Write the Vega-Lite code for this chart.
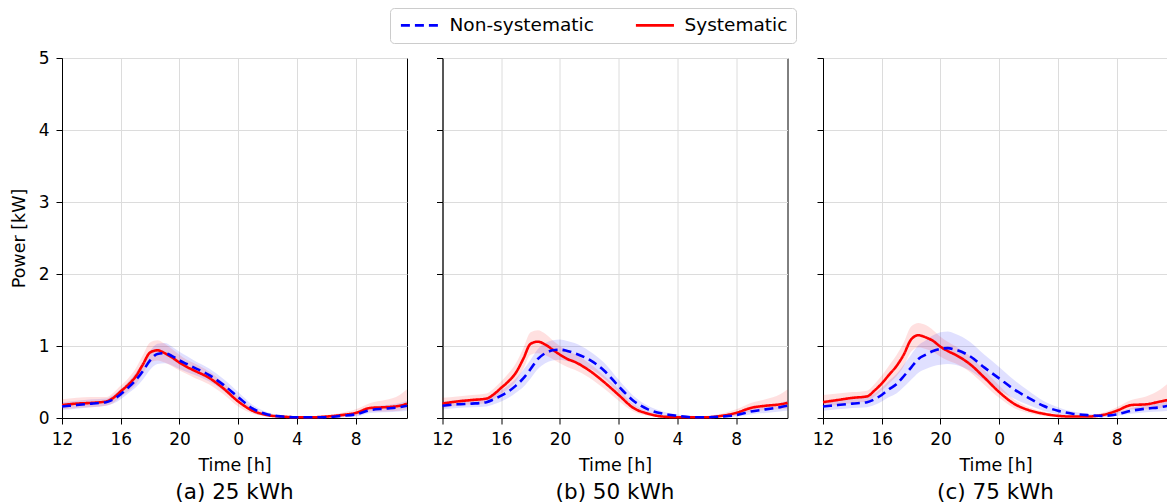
{
  "$schema": "https://vega.github.io/schema/vega-lite/v6.json",
  "padding": {"left": 9, "top": 7, "right": 0, "bottom": 0},
  "config": {
    "font": "DejaVu Sans",
    "view": {"stroke": "#000000", "strokeWidth": 1},
    "axis": {"gridColor": "#dcdcdc", "gridWidth": 1, "domainColor": "#000000", "tickColor": "#000000", "labelColor": "#000000", "titleColor": "#000000", "labelFontSize": 17, "titleFontSize": 17.5, "titleFontWeight": "normal", "tickSize": 6, "labelPadding": 7, "labelFlush": false, "labelFont": "DejaVu Sans", "titleFont": "DejaVu Sans"},
    "title": {"fontSize": 21.5, "fontWeight": "normal", "color": "#000000", "font": "DejaVu Sans"},
    "legend": {"title": null, "orient": "none", "legendX": 328, "legendY": -50, "direction": "horizontal", "columns": 2, "symbolType": "M-1,0H5", "symbolSize": 161, "symbolStrokeWidth": 2.6, "labelFontSize": 18.5, "labelFont": "DejaVu Sans", "labelColor": "#000000", "labelOffset": 33, "columnPadding": 36, "padding": 8, "strokeColor": "#cccccc", "fillColor": "#ffffff", "cornerRadius": 4}
  },
  "data": {"values": [
    {"p":"a","s":"Systematic","t":0,"y":0.18,"lo":0.12,"hi":0.26},
    {"p":"a","s":"Systematic","t":1,"y":0.20,"lo":0.14,"hi":0.28},
    {"p":"a","s":"Systematic","t":2,"y":0.21,"lo":0.15,"hi":0.29},
    {"p":"a","s":"Systematic","t":3,"y":0.23,"lo":0.17,"hi":0.29},
    {"p":"a","s":"Systematic","t":3.5,"y":0.28,"lo":0.21,"hi":0.35},
    {"p":"a","s":"Systematic","t":4,"y":0.37,"lo":0.29,"hi":0.45},
    {"p":"a","s":"Systematic","t":4.5,"y":0.46,"lo":0.37,"hi":0.55},
    {"p":"a","s":"Systematic","t":5,"y":0.57,"lo":0.46,"hi":0.68},
    {"p":"a","s":"Systematic","t":5.5,"y":0.74,"lo":0.61,"hi":0.87},
    {"p":"a","s":"Systematic","t":6,"y":0.91,"lo":0.77,"hi":1.05},
    {"p":"a","s":"Systematic","t":6.5,"y":0.94,"lo":0.80,"hi":1.08},
    {"p":"a","s":"Systematic","t":7,"y":0.90,"lo":0.77,"hi":1.03},
    {"p":"a","s":"Systematic","t":7.5,"y":0.84,"lo":0.72,"hi":0.96},
    {"p":"a","s":"Systematic","t":8,"y":0.77,"lo":0.66,"hi":0.88},
    {"p":"a","s":"Systematic","t":8.5,"y":0.71,"lo":0.61,"hi":0.81},
    {"p":"a","s":"Systematic","t":9,"y":0.66,"lo":0.56,"hi":0.76},
    {"p":"a","s":"Systematic","t":10,"y":0.56,"lo":0.47,"hi":0.65},
    {"p":"a","s":"Systematic","t":11,"y":0.41,"lo":0.33,"hi":0.49},
    {"p":"a","s":"Systematic","t":12,"y":0.23,"lo":0.16,"hi":0.30},
    {"p":"a","s":"Systematic","t":13,"y":0.10,"lo":0.06,"hi":0.14},
    {"p":"a","s":"Systematic","t":14,"y":0.04,"lo":0.02,"hi":0.06},
    {"p":"a","s":"Systematic","t":15,"y":0.02,"lo":0.01,"hi":0.03},
    {"p":"a","s":"Systematic","t":16,"y":0.01,"lo":0.00,"hi":0.02},
    {"p":"a","s":"Systematic","t":17,"y":0.01,"lo":0.00,"hi":0.02},
    {"p":"a","s":"Systematic","t":18,"y":0.02,"lo":0.00,"hi":0.04},
    {"p":"a","s":"Systematic","t":19,"y":0.04,"lo":0.01,"hi":0.07},
    {"p":"a","s":"Systematic","t":20,"y":0.07,"lo":0.03,"hi":0.12},
    {"p":"a","s":"Systematic","t":21,"y":0.14,"lo":0.09,"hi":0.21},
    {"p":"a","s":"Systematic","t":22,"y":0.15,"lo":0.09,"hi":0.25},
    {"p":"a","s":"Systematic","t":23,"y":0.17,"lo":0.10,"hi":0.32},
    {"p":"a","s":"Systematic","t":23.5,"y":0.20,"lo":0.12,"hi":0.40},
    {"p":"a","s":"Non-systematic","t":0,"y":0.16,"lo":0.11,"hi":0.22},
    {"p":"a","s":"Non-systematic","t":1,"y":0.18,"lo":0.13,"hi":0.24},
    {"p":"a","s":"Non-systematic","t":2,"y":0.20,"lo":0.15,"hi":0.26},
    {"p":"a","s":"Non-systematic","t":3,"y":0.22,"lo":0.17,"hi":0.27},
    {"p":"a","s":"Non-systematic","t":3.5,"y":0.26,"lo":0.20,"hi":0.32},
    {"p":"a","s":"Non-systematic","t":4,"y":0.33,"lo":0.26,"hi":0.40},
    {"p":"a","s":"Non-systematic","t":4.5,"y":0.42,"lo":0.34,"hi":0.50},
    {"p":"a","s":"Non-systematic","t":5,"y":0.52,"lo":0.42,"hi":0.62},
    {"p":"a","s":"Non-systematic","t":5.5,"y":0.65,"lo":0.53,"hi":0.77},
    {"p":"a","s":"Non-systematic","t":6,"y":0.80,"lo":0.67,"hi":0.93},
    {"p":"a","s":"Non-systematic","t":6.5,"y":0.89,"lo":0.75,"hi":1.03},
    {"p":"a","s":"Non-systematic","t":7,"y":0.90,"lo":0.76,"hi":1.04},
    {"p":"a","s":"Non-systematic","t":7.5,"y":0.86,"lo":0.73,"hi":0.99},
    {"p":"a","s":"Non-systematic","t":8,"y":0.80,"lo":0.68,"hi":0.92},
    {"p":"a","s":"Non-systematic","t":8.5,"y":0.75,"lo":0.64,"hi":0.86},
    {"p":"a","s":"Non-systematic","t":9,"y":0.70,"lo":0.60,"hi":0.80},
    {"p":"a","s":"Non-systematic","t":10,"y":0.60,"lo":0.51,"hi":0.69},
    {"p":"a","s":"Non-systematic","t":11,"y":0.46,"lo":0.38,"hi":0.54},
    {"p":"a","s":"Non-systematic","t":12,"y":0.29,"lo":0.22,"hi":0.36},
    {"p":"a","s":"Non-systematic","t":13,"y":0.13,"lo":0.08,"hi":0.18},
    {"p":"a","s":"Non-systematic","t":14,"y":0.05,"lo":0.02,"hi":0.08},
    {"p":"a","s":"Non-systematic","t":15,"y":0.02,"lo":0.01,"hi":0.03},
    {"p":"a","s":"Non-systematic","t":16,"y":0.01,"lo":0.00,"hi":0.02},
    {"p":"a","s":"Non-systematic","t":17,"y":0.01,"lo":0.00,"hi":0.02},
    {"p":"a","s":"Non-systematic","t":18,"y":0.01,"lo":0.00,"hi":0.02},
    {"p":"a","s":"Non-systematic","t":19,"y":0.03,"lo":0.01,"hi":0.05},
    {"p":"a","s":"Non-systematic","t":20,"y":0.05,"lo":0.02,"hi":0.08},
    {"p":"a","s":"Non-systematic","t":21,"y":0.11,"lo":0.07,"hi":0.15},
    {"p":"a","s":"Non-systematic","t":22,"y":0.13,"lo":0.08,"hi":0.18},
    {"p":"a","s":"Non-systematic","t":23,"y":0.15,"lo":0.09,"hi":0.21},
    {"p":"a","s":"Non-systematic","t":23.5,"y":0.17,"lo":0.10,"hi":0.24},
    {"p":"b","s":"Systematic","t":0,"y":0.20,"lo":0.14,"hi":0.28},
    {"p":"b","s":"Systematic","t":1,"y":0.23,"lo":0.17,"hi":0.30},
    {"p":"b","s":"Systematic","t":2,"y":0.25,"lo":0.19,"hi":0.32},
    {"p":"b","s":"Systematic","t":3,"y":0.27,"lo":0.21,"hi":0.34},
    {"p":"b","s":"Systematic","t":3.5,"y":0.33,"lo":0.26,"hi":0.41},
    {"p":"b","s":"Systematic","t":4,"y":0.42,"lo":0.34,"hi":0.51},
    {"p":"b","s":"Systematic","t":4.5,"y":0.51,"lo":0.41,"hi":0.62},
    {"p":"b","s":"Systematic","t":5,"y":0.63,"lo":0.51,"hi":0.76},
    {"p":"b","s":"Systematic","t":5.5,"y":0.82,"lo":0.68,"hi":0.97},
    {"p":"b","s":"Systematic","t":6,"y":1.03,"lo":0.88,"hi":1.19},
    {"p":"b","s":"Systematic","t":6.5,"y":1.06,"lo":0.90,"hi":1.22},
    {"p":"b","s":"Systematic","t":7,"y":1.02,"lo":0.87,"hi":1.17},
    {"p":"b","s":"Systematic","t":7.5,"y":0.95,"lo":0.82,"hi":1.08},
    {"p":"b","s":"Systematic","t":8,"y":0.88,"lo":0.76,"hi":1.00},
    {"p":"b","s":"Systematic","t":8.5,"y":0.82,"lo":0.71,"hi":0.93},
    {"p":"b","s":"Systematic","t":9,"y":0.78,"lo":0.67,"hi":0.89},
    {"p":"b","s":"Systematic","t":10,"y":0.66,"lo":0.56,"hi":0.76},
    {"p":"b","s":"Systematic","t":11,"y":0.50,"lo":0.41,"hi":0.59},
    {"p":"b","s":"Systematic","t":12,"y":0.32,"lo":0.24,"hi":0.40},
    {"p":"b","s":"Systematic","t":13,"y":0.14,"lo":0.09,"hi":0.19},
    {"p":"b","s":"Systematic","t":14,"y":0.06,"lo":0.03,"hi":0.09},
    {"p":"b","s":"Systematic","t":15,"y":0.02,"lo":0.01,"hi":0.04},
    {"p":"b","s":"Systematic","t":16,"y":0.01,"lo":0.00,"hi":0.02},
    {"p":"b","s":"Systematic","t":17,"y":0.01,"lo":0.00,"hi":0.02},
    {"p":"b","s":"Systematic","t":18,"y":0.01,"lo":0.00,"hi":0.03},
    {"p":"b","s":"Systematic","t":19,"y":0.03,"lo":0.01,"hi":0.06},
    {"p":"b","s":"Systematic","t":20,"y":0.07,"lo":0.03,"hi":0.12},
    {"p":"b","s":"Systematic","t":21,"y":0.14,"lo":0.09,"hi":0.21},
    {"p":"b","s":"Systematic","t":22,"y":0.17,"lo":0.11,"hi":0.26},
    {"p":"b","s":"Systematic","t":23,"y":0.19,"lo":0.12,"hi":0.33},
    {"p":"b","s":"Systematic","t":23.5,"y":0.21,"lo":0.13,"hi":0.40},
    {"p":"b","s":"Non-systematic","t":0,"y":0.17,"lo":0.12,"hi":0.23},
    {"p":"b","s":"Non-systematic","t":1,"y":0.19,"lo":0.14,"hi":0.25},
    {"p":"b","s":"Non-systematic","t":2,"y":0.20,"lo":0.15,"hi":0.26},
    {"p":"b","s":"Non-systematic","t":3,"y":0.22,"lo":0.16,"hi":0.28},
    {"p":"b","s":"Non-systematic","t":3.5,"y":0.26,"lo":0.19,"hi":0.33},
    {"p":"b","s":"Non-systematic","t":4,"y":0.31,"lo":0.23,"hi":0.39},
    {"p":"b","s":"Non-systematic","t":4.5,"y":0.37,"lo":0.28,"hi":0.46},
    {"p":"b","s":"Non-systematic","t":5,"y":0.45,"lo":0.35,"hi":0.55},
    {"p":"b","s":"Non-systematic","t":5.5,"y":0.55,"lo":0.43,"hi":0.67},
    {"p":"b","s":"Non-systematic","t":6,"y":0.68,"lo":0.55,"hi":0.81},
    {"p":"b","s":"Non-systematic","t":6.5,"y":0.82,"lo":0.68,"hi":0.96},
    {"p":"b","s":"Non-systematic","t":7,"y":0.90,"lo":0.76,"hi":1.04},
    {"p":"b","s":"Non-systematic","t":7.5,"y":0.94,"lo":0.80,"hi":1.08},
    {"p":"b","s":"Non-systematic","t":8,"y":0.95,"lo":0.81,"hi":1.09},
    {"p":"b","s":"Non-systematic","t":8.5,"y":0.93,"lo":0.79,"hi":1.07},
    {"p":"b","s":"Non-systematic","t":9,"y":0.90,"lo":0.76,"hi":1.04},
    {"p":"b","s":"Non-systematic","t":10,"y":0.81,"lo":0.69,"hi":0.93},
    {"p":"b","s":"Non-systematic","t":11,"y":0.66,"lo":0.55,"hi":0.77},
    {"p":"b","s":"Non-systematic","t":12,"y":0.44,"lo":0.35,"hi":0.53},
    {"p":"b","s":"Non-systematic","t":13,"y":0.24,"lo":0.17,"hi":0.31},
    {"p":"b","s":"Non-systematic","t":14,"y":0.12,"lo":0.07,"hi":0.17},
    {"p":"b","s":"Non-systematic","t":15,"y":0.06,"lo":0.03,"hi":0.09},
    {"p":"b","s":"Non-systematic","t":16,"y":0.03,"lo":0.01,"hi":0.05},
    {"p":"b","s":"Non-systematic","t":17,"y":0.01,"lo":0.00,"hi":0.03},
    {"p":"b","s":"Non-systematic","t":18,"y":0.01,"lo":0.00,"hi":0.02},
    {"p":"b","s":"Non-systematic","t":19,"y":0.02,"lo":0.01,"hi":0.04},
    {"p":"b","s":"Non-systematic","t":20,"y":0.04,"lo":0.02,"hi":0.07},
    {"p":"b","s":"Non-systematic","t":21,"y":0.09,"lo":0.05,"hi":0.13},
    {"p":"b","s":"Non-systematic","t":22,"y":0.12,"lo":0.07,"hi":0.17},
    {"p":"b","s":"Non-systematic","t":23,"y":0.15,"lo":0.09,"hi":0.21},
    {"p":"b","s":"Non-systematic","t":23.5,"y":0.17,"lo":0.10,"hi":0.24},
    {"p":"c","s":"Systematic","t":0,"y":0.22,"lo":0.15,"hi":0.32},
    {"p":"c","s":"Systematic","t":1,"y":0.25,"lo":0.18,"hi":0.34},
    {"p":"c","s":"Systematic","t":2,"y":0.28,"lo":0.21,"hi":0.36},
    {"p":"c","s":"Systematic","t":3,"y":0.30,"lo":0.23,"hi":0.38},
    {"p":"c","s":"Systematic","t":3.5,"y":0.38,"lo":0.30,"hi":0.47},
    {"p":"c","s":"Systematic","t":4,"y":0.48,"lo":0.38,"hi":0.59},
    {"p":"c","s":"Systematic","t":4.5,"y":0.60,"lo":0.48,"hi":0.73},
    {"p":"c","s":"Systematic","t":5,"y":0.72,"lo":0.58,"hi":0.87},
    {"p":"c","s":"Systematic","t":5.5,"y":0.88,"lo":0.72,"hi":1.05},
    {"p":"c","s":"Systematic","t":6,"y":1.09,"lo":0.92,"hi":1.27},
    {"p":"c","s":"Systematic","t":6.5,"y":1.15,"lo":0.98,"hi":1.32},
    {"p":"c","s":"Systematic","t":7,"y":1.12,"lo":0.96,"hi":1.29},
    {"p":"c","s":"Systematic","t":7.5,"y":1.07,"lo":0.92,"hi":1.22},
    {"p":"c","s":"Systematic","t":8,"y":0.99,"lo":0.85,"hi":1.13},
    {"p":"c","s":"Systematic","t":8.5,"y":0.93,"lo":0.80,"hi":1.06},
    {"p":"c","s":"Systematic","t":9,"y":0.88,"lo":0.76,"hi":1.00},
    {"p":"c","s":"Systematic","t":10,"y":0.75,"lo":0.64,"hi":0.86},
    {"p":"c","s":"Systematic","t":11,"y":0.56,"lo":0.46,"hi":0.66},
    {"p":"c","s":"Systematic","t":12,"y":0.36,"lo":0.28,"hi":0.45},
    {"p":"c","s":"Systematic","t":13,"y":0.20,"lo":0.14,"hi":0.26},
    {"p":"c","s":"Systematic","t":14,"y":0.11,"lo":0.07,"hi":0.15},
    {"p":"c","s":"Systematic","t":15,"y":0.06,"lo":0.03,"hi":0.09},
    {"p":"c","s":"Systematic","t":16,"y":0.03,"lo":0.01,"hi":0.05},
    {"p":"c","s":"Systematic","t":17,"y":0.02,"lo":0.01,"hi":0.04},
    {"p":"c","s":"Systematic","t":18,"y":0.02,"lo":0.01,"hi":0.04},
    {"p":"c","s":"Systematic","t":19,"y":0.04,"lo":0.02,"hi":0.07},
    {"p":"c","s":"Systematic","t":20,"y":0.10,"lo":0.06,"hi":0.15},
    {"p":"c","s":"Systematic","t":21,"y":0.18,"lo":0.12,"hi":0.25},
    {"p":"c","s":"Systematic","t":22,"y":0.19,"lo":0.12,"hi":0.30},
    {"p":"c","s":"Systematic","t":23,"y":0.23,"lo":0.14,"hi":0.40},
    {"p":"c","s":"Systematic","t":23.5,"y":0.25,"lo":0.15,"hi":0.48},
    {"p":"c","s":"Non-systematic","t":0,"y":0.16,"lo":0.10,"hi":0.23},
    {"p":"c","s":"Non-systematic","t":1,"y":0.18,"lo":0.12,"hi":0.25},
    {"p":"c","s":"Non-systematic","t":2,"y":0.20,"lo":0.14,"hi":0.27},
    {"p":"c","s":"Non-systematic","t":3,"y":0.22,"lo":0.15,"hi":0.29},
    {"p":"c","s":"Non-systematic","t":3.5,"y":0.26,"lo":0.18,"hi":0.34},
    {"p":"c","s":"Non-systematic","t":4,"y":0.32,"lo":0.23,"hi":0.42},
    {"p":"c","s":"Non-systematic","t":4.5,"y":0.40,"lo":0.29,"hi":0.52},
    {"p":"c","s":"Non-systematic","t":5,"y":0.47,"lo":0.34,"hi":0.61},
    {"p":"c","s":"Non-systematic","t":5.5,"y":0.58,"lo":0.43,"hi":0.74},
    {"p":"c","s":"Non-systematic","t":6,"y":0.70,"lo":0.53,"hi":0.88},
    {"p":"c","s":"Non-systematic","t":6.5,"y":0.82,"lo":0.63,"hi":1.01},
    {"p":"c","s":"Non-systematic","t":7,"y":0.88,"lo":0.68,"hi":1.08},
    {"p":"c","s":"Non-systematic","t":7.5,"y":0.93,"lo":0.72,"hi":1.15},
    {"p":"c","s":"Non-systematic","t":8,"y":0.96,"lo":0.74,"hi":1.19},
    {"p":"c","s":"Non-systematic","t":8.5,"y":0.97,"lo":0.75,"hi":1.20},
    {"p":"c","s":"Non-systematic","t":9,"y":0.95,"lo":0.74,"hi":1.17},
    {"p":"c","s":"Non-systematic","t":10,"y":0.86,"lo":0.66,"hi":1.06},
    {"p":"c","s":"Non-systematic","t":11,"y":0.70,"lo":0.52,"hi":0.88},
    {"p":"c","s":"Non-systematic","t":12,"y":0.55,"lo":0.39,"hi":0.71},
    {"p":"c","s":"Non-systematic","t":13,"y":0.40,"lo":0.27,"hi":0.53},
    {"p":"c","s":"Non-systematic","t":14,"y":0.28,"lo":0.18,"hi":0.38},
    {"p":"c","s":"Non-systematic","t":15,"y":0.17,"lo":0.10,"hi":0.24},
    {"p":"c","s":"Non-systematic","t":16,"y":0.10,"lo":0.05,"hi":0.15},
    {"p":"c","s":"Non-systematic","t":17,"y":0.06,"lo":0.03,"hi":0.09},
    {"p":"c","s":"Non-systematic","t":18,"y":0.04,"lo":0.02,"hi":0.06},
    {"p":"c","s":"Non-systematic","t":19,"y":0.03,"lo":0.01,"hi":0.05},
    {"p":"c","s":"Non-systematic","t":20,"y":0.05,"lo":0.03,"hi":0.08},
    {"p":"c","s":"Non-systematic","t":21,"y":0.10,"lo":0.06,"hi":0.14},
    {"p":"c","s":"Non-systematic","t":22,"y":0.13,"lo":0.08,"hi":0.18},
    {"p":"c","s":"Non-systematic","t":23,"y":0.15,"lo":0.09,"hi":0.21},
    {"p":"c","s":"Non-systematic","t":23.5,"y":0.17,"lo":0.10,"hi":0.24}
  ]},
  "spacing": 35.5,
  "bounds": "flush",
  "resolve": {"scale": {"color": "shared", "strokeDash": "shared"}, "legend": {"color": "shared", "strokeDash": "shared"}},
  "hconcat": [
    {
      "width": 345, "height": 360,
      "title": {"text": "(a) 25 kWh", "orient": "bottom", "offset": 8},
      "transform": [{"filter": "datum.p == 'a'"}],
      "encoding": {
        "x": {"field": "t", "type": "quantitative", "scale": {"domain": [0, 23.5], "nice": false, "zero": false}, "axis": {"values": [0, 4, 8, 12, 16, 20], "labelExpr": "(datum.value + 12) % 24", "title": "Time [h]", "titlePadding": 9}},
        "y": {"field": "y", "type": "quantitative", "scale": {"domain": [0, 5], "nice": false}, "axis": {"values": [0, 1, 2, 3, 4, 5], "title": "Power [kW]", "titlePadding": 10}}
      },
      "layer": [
        {"transform": [{"filter": "datum.s == 'Non-systematic'"}], "mark": {"type": "area", "interpolate": "monotone", "fill": "#0000ff", "fillOpacity": 0.12}, "encoding": {"y": {"field": "lo", "type": "quantitative", "title": "Power [kW]"}, "y2": {"field": "hi"}}},
        {"transform": [{"filter": "datum.s == 'Systematic'"}], "mark": {"type": "area", "interpolate": "monotone", "fill": "#ff0000", "fillOpacity": 0.12}, "encoding": {"y": {"field": "lo", "type": "quantitative", "title": "Power [kW]"}, "y2": {"field": "hi"}}},
        {"mark": {"type": "line", "interpolate": "monotone", "strokeWidth": 2.6},
         "encoding": {
           "color": {"field": "s", "type": "nominal", "scale": {"domain": ["Non-systematic", "Systematic"], "range": ["#0000ff", "#ff0000"]}},
           "strokeDash": {"field": "s", "type": "nominal", "scale": {"domain": ["Non-systematic", "Systematic"], "range": [[9, 5], [1, 0]]}}}}
      ]
    },
    {
      "width": 345, "height": 360,
      "title": {"text": "(b) 50 kWh", "orient": "bottom", "offset": 8},
      "transform": [{"filter": "datum.p == 'b'"}],
      "encoding": {
        "x": {"field": "t", "type": "quantitative", "scale": {"domain": [0, 23.5], "nice": false, "zero": false}, "axis": {"values": [0, 4, 8, 12, 16, 20], "labelExpr": "(datum.value + 12) % 24", "title": "Time [h]", "titlePadding": 9}},
        "y": {"field": "y", "type": "quantitative", "scale": {"domain": [0, 5], "nice": false}, "axis": {"values": [0, 1, 2, 3, 4, 5], "labels": false, "title": null}}
      },
      "layer": [
        {"transform": [{"filter": "datum.s == 'Non-systematic'"}], "mark": {"type": "area", "interpolate": "monotone", "fill": "#0000ff", "fillOpacity": 0.12}, "encoding": {"y": {"field": "lo", "type": "quantitative"}, "y2": {"field": "hi"}}},
        {"transform": [{"filter": "datum.s == 'Systematic'"}], "mark": {"type": "area", "interpolate": "monotone", "fill": "#ff0000", "fillOpacity": 0.12}, "encoding": {"y": {"field": "lo", "type": "quantitative"}, "y2": {"field": "hi"}}},
        {"mark": {"type": "line", "interpolate": "monotone", "strokeWidth": 2.6},
         "encoding": {
           "color": {"field": "s", "type": "nominal"},
           "strokeDash": {"field": "s", "type": "nominal"}}}
      ]
    },
    {
      "width": 345, "height": 360,
      "title": {"text": "(c) 75 kWh", "orient": "bottom", "offset": 8},
      "transform": [{"filter": "datum.p == 'c'"}],
      "encoding": {
        "x": {"field": "t", "type": "quantitative", "scale": {"domain": [0, 23.5], "nice": false, "zero": false}, "axis": {"values": [0, 4, 8, 12, 16, 20], "labelExpr": "(datum.value + 12) % 24", "title": "Time [h]", "titlePadding": 9}},
        "y": {"field": "y", "type": "quantitative", "scale": {"domain": [0, 5], "nice": false}, "axis": {"values": [0, 1, 2, 3, 4, 5], "labels": false, "title": null}}
      },
      "layer": [
        {"transform": [{"filter": "datum.s == 'Non-systematic'"}], "mark": {"type": "area", "interpolate": "monotone", "fill": "#0000ff", "fillOpacity": 0.12}, "encoding": {"y": {"field": "lo", "type": "quantitative"}, "y2": {"field": "hi"}}},
        {"transform": [{"filter": "datum.s == 'Systematic'"}], "mark": {"type": "area", "interpolate": "monotone", "fill": "#ff0000", "fillOpacity": 0.12}, "encoding": {"y": {"field": "lo", "type": "quantitative"}, "y2": {"field": "hi"}}},
        {"mark": {"type": "line", "interpolate": "monotone", "strokeWidth": 2.6},
         "encoding": {
           "color": {"field": "s", "type": "nominal"},
           "strokeDash": {"field": "s", "type": "nominal"}}}
      ]
    }
  ]
}
